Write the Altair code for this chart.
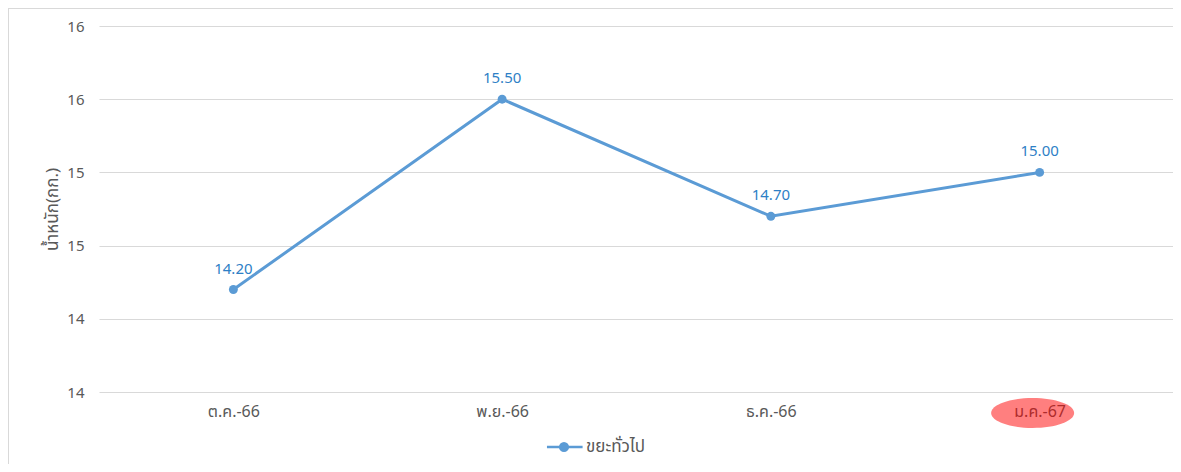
import altair as alt
import pandas as pd

months = ["ต.ค.-66", "พ.ย.-66", "ธ.ค.-66", "ม.ค.-67"]
weights = [14.20, 15.50, 14.70, 15.00]
series_name = "ขยะทั่วไป"
y_ticks = [13.5, 14.0, 14.5, 15.0, 15.5, 16.0]
highlight_month = ["ม.ค.-67"]

df = pd.DataFrame({"month": months, "weight": weights, "series": [series_name] * len(months)})
hl = pd.DataFrame({"month": highlight_month})

FONT = "Noto Sans, Noto Sans Thai, Tahoma, sans-serif"
LINE = "#5B9BD5"
LABEL = "#2E7FC6"
GREY = "#595959"

xscale = alt.Scale(paddingInner=0, paddingOuter=0.5, range=[0, 1075])
xenc = alt.X("month:N", sort=months, title=None, scale=xscale,
             axis=alt.Axis(domain=False, ticks=False, labelAngle=0, labelFontSize=16,
                           labelColor=GREY, labelPadding=11, labelFont=FONT, grid=False))
yenc = alt.Y("weight:Q", title="น้ำหนัก(กก.)",
             scale=alt.Scale(domain=[13.5, 16.0], nice=False, zero=False),
             axis=alt.Axis(values=y_ticks, format=".0f", domain=False, ticks=False,
                           labelFontSize=15, labelColor=GREY, labelPadding=15, labelFont=FONT,
                           gridColor="#D9D9D9", gridWidth=1,
                           titleFontSize=17, titleColor=GREY, titleFont=FONT,
                           titleFontWeight="normal", titlePadding=5))

legend_symbol = "M-2.2,0 L2.4,0 M-0.5,0 A0.5,0.5 0 1,1 0.5,0 A0.5,0.5 0 1,1 -0.5,0 Z"

color = alt.Color("series:N", scale=alt.Scale(range=[LINE]),
                  legend=alt.Legend(title=None, orient="none", legendX=456, legendY=412,
                                    padding=0,
                                    symbolType=legend_symbol, symbolSize=240,
                                    symbolStrokeWidth=2.5, symbolFillColor=LINE,
                                    symbolStrokeColor=LINE,
                                    labelFontSize=17, labelColor=GREY, labelFont=FONT,
                                    labelOffset=13))

base = alt.Chart(df)
line = base.mark_line(strokeWidth=3).encode(x=xenc, y=yenc, color=color)
pts = base.mark_point(filled=True, size=80, opacity=1).encode(x=xenc, y=yenc, color=color)
labels = base.mark_text(dy=-21, fontSize=15, color=LABEL, font=FONT).encode(
    x=xenc, y=yenc, text=alt.Text("weight:Q", format=".2f"))

ellipse_path = "M-1,0 A1,0.36 0 1,0 1,0 A1,0.36 0 1,0 -1,0 Z"
ell = alt.Chart(hl).mark_point(shape=ellipse_path, filled=True, size=6889,
                               color="#FF0000", opacity=0.5, strokeWidth=0).encode(
    x=alt.X("month:N", sort=months, scale=xscale), y=alt.value(387), xOffset=alt.value(-7))

frame_top = alt.Chart(hl).mark_rule(color="#D9D9D9", strokeWidth=1).encode(
    x=alt.value(-91), x2=alt.value(1080), y=alt.value(-17.5))
frame_left = alt.Chart(hl).mark_rule(color="#D9D9D9", strokeWidth=1).encode(
    x=alt.value(-90.5), y=alt.value(-18), y2=alt.value(446))

chart = alt.layer(frame_top, frame_left, line, pts, labels, ell).properties(
    width=1066, height=366,
    background="white",
    autosize=alt.AutoSizeParams(type="none"),
    padding={"left": 91, "top": 18, "right": 8, "bottom": 72},
).configure_view(stroke=None)

chart.save("out.html", embed_options={"renderer": "svg", "actions": False})
